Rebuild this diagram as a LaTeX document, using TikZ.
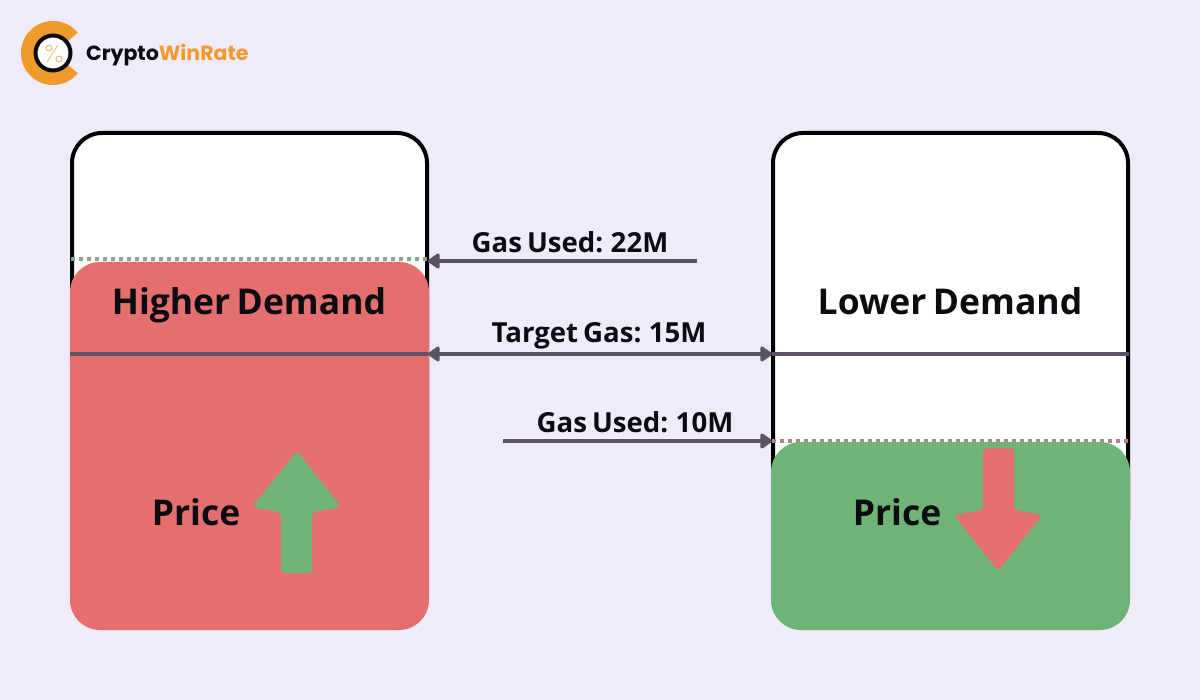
\documentclass[tikz,border=0pt]{standalone}
\usepackage{fontspec}
\setmainfont[WordSpace=0.7]{Open Sans}
\newfontfamily\logofont{Poppins}
\usetikzlibrary{arrows.meta}
\definecolor{bgc}{HTML}{EFEBF8}
\definecolor{redc}{HTML}{E56F6F}
\definecolor{greenc}{HTML}{6DB476}
\definecolor{linec}{HTML}{5B5266}
\definecolor{orangec}{HTML}{F09A2E}
\definecolor{inkc}{HTML}{0B0B12}
\definecolor{dotg}{HTML}{8BA58A}
\definecolor{dotr}{HTML}{B08585}
\tikzset{
  x=1pt,y=-1pt,
  panel/.style={draw=black,line width=4pt,fill=white,rounded corners=30pt},
  levelbox/.style={rounded corners=30pt},
  arrowshape/.style={rounded corners=4pt},
  level/.style={line width=4pt,draw=linec},
  flow/.style={line width=4pt,draw=linec,-{Triangle[length=13pt,width=17pt,round]}},
  flowboth/.style={line width=4pt,draw=linec,{Triangle[length=13pt,width=17pt,round]}-{Triangle[length=13pt,width=17pt,round]}},
  dotline/.style={line width=3.5pt,dash pattern=on 4pt off 4pt},
  head/.style={font=\bfseries\fontsize{35.5}{40}\selectfont,text=inkc,inner sep=0pt,anchor=base},
  gaslabel/.style={font=\bfseries\fontsize{27.6}{30}\selectfont,text=inkc,inner sep=0pt,anchor=base},
}
\begin{document}
\begin{tikzpicture}
\useasboundingbox (0,0) rectangle (1200,700);
\fill[bgc] (0,0) rectangle (1200,700);
% logo
\draw[orangec,line width=13pt] plot[domain=39:321,samples=70] ({53+25.5*cos(\x)},{53+25.5*sin(\x)});
\draw[inkc,line width=4pt,fill=white] (53,53) circle[radius=17.5];
\draw[orangec!70!white,line width=0.8pt] (58,45) -- (47,62);
\draw[orangec!70!white,line width=0.9pt] (49,48) circle[radius=3] (59,59) circle[radius=3];
\node (logo) [anchor=west,inner sep=0pt,font=\logofont\bfseries\fontsize{20.5}{24}\selectfont] at (86,55) {\textcolor{inkc}{Crypto}\textcolor{orangec}{WinRate}};
% panels
\draw[panel] (72,480) -- (72,133) -- (427,133) -- (427,480);
\draw[panel] (773,520) -- (773,133) -- (1128,133) -- (1128,520);
% dotted levels
\draw[dotline,dotg] (71,259) -- (428,259);
\draw[dotline,dotr] (772,441) -- (1129,441);
% fills
\fill[redc,levelbox] (70,262) rectangle (429,630);
\fill[greenc,levelbox] (771,442) rectangle (1130,630);
% anchors
\coordinate (usedHighEnd) at (428,261);
\coordinate (usedHighStart) at (697,261);
\coordinate (leftOuter) at (70,354);
\coordinate (leftInner) at (428,354);
\coordinate (rightInner) at (772,354);
\coordinate (rightOuter) at (1129,354);
\coordinate (usedLowStart) at (503,441);
\coordinate (usedLowEnd) at (772,441);
% target lines
\draw[level] (leftOuter) -- (leftInner);
\draw[level] (rightInner) -- (rightOuter);
\draw[flow] (usedHighStart) -- (usedHighEnd);
\draw[flowboth] (leftInner) -- (rightInner);
\draw[flow] (usedLowStart) -- (usedLowEnd);
% price arrows
\fill[greenc,arrowshape] (297,451) -- (341,507) -- (312,512) -- (312,573) -- (281,573) -- (281,512) -- (252,507) -- cycle;
\fill[redc,arrowshape] (983,448) -- (1014,448) -- (1014,510) -- (1042,515) -- (998,571) -- (954,515) -- (983,510) -- cycle;
% labels
\node (higher) [head] at (249,315) {Higher Demand};
\node (lower) [head] at (950,315) {Lower Demand};
\node (priceL) [head] at (196,525) {Price};
\node (priceR) [head] at (897,525) {Price};
\node (gas22) [gaslabel] at (570,253) {Gas Used: 22M};
\node (gas15) [gaslabel] at (599,343) {Target Gas: 15M};
\node (gas10) [gaslabel] at (635,433) {Gas Used: 10M};
\end{tikzpicture}
\end{document}
